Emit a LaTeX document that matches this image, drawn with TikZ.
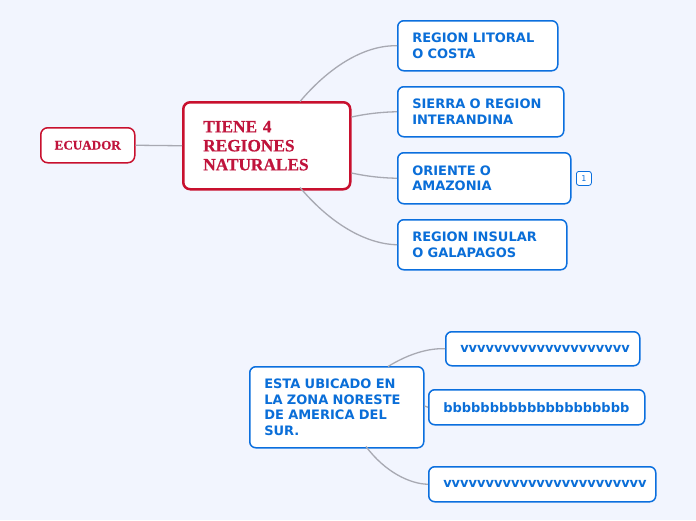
\documentclass[tikz,border=0pt]{standalone}
\usepackage{fontspec}
\setmainfont{Liberation Serif}
\newfontfamily\redfont[FakeBold=0.6]{Liberation Serif Bold}
\newfontfamily\bluefont{DejaVu Sans}
\definecolor{bg}{HTML}{F2F5FE}
\definecolor{mred}{HTML}{C8102E}
\definecolor{tred}{HTML}{C0143C}
\definecolor{mblue}{HTML}{0B6FDE}
\definecolor{tblue}{HTML}{0A6ED8}
\definecolor{conn}{HTML}{A8A9B2}
\tikzset{
  bluebox/.style={draw=mblue, line width=1.5pt, rounded corners=6pt, fill=white,
    anchor=north west, inner xsep=14.5pt, inner ysep=0pt, align=left,
    font=\bluefont\bfseries\fontsize{13}{15.5}\selectfont, text=tblue},
  redbox/.style={draw=mred, rounded corners=7pt, fill=white, anchor=north west,
    inner ysep=0pt, align=left, text=tred},
  link/.style={draw=conn, line width=1.3pt},
}
\begin{document}
\begin{tikzpicture}[x=1pt,y=-1pt]
\fill[bg] (0,0) rectangle (696,520);
\useasboundingbox (0,0) rectangle (696,520);
% red nodes
\node[redbox, line width=1.5pt, minimum width=94pt, minimum height=35pt, inner xsep=0pt, align=center,
  font=\redfont\fontsize{13.1}{16}\selectfont] (ecu) at (40,127) {\hbox to 94pt{\hss ECUADOR\hss}};
\node[redbox, line width=2.5pt, minimum width=167pt, minimum height=87pt, inner xsep=20pt,
  text width=127pt, font=\redfont\fontsize{17.3}{19}\selectfont] (tiene) at (182,101) {TIENE 4\\REGIONES\\NATURALES};
% blue nodes
\node[bluebox, minimum width=160pt, minimum height=50pt, text width=131pt] (lit) at (397,20) {REGION LITORAL\\O COSTA};
\node[bluebox, minimum width=166pt, minimum height=50pt, text width=137pt] (sie) at (397,86) {SIERRA O REGION\\INTERANDINA};
\node[bluebox, minimum width=173pt, minimum height=51pt, text width=144pt] (ori) at (397,152) {ORIENTE O\\AMAZONIA};
\node[bluebox, minimum width=169pt, minimum height=50pt, text width=140pt] (ins) at (397,219) {REGION INSULAR\\O GALAPAGOS};
\node[draw=mblue, line width=0.8pt, rounded corners=2.5pt, fill=white, anchor=north west,
  minimum width=15pt, minimum height=14pt, inner sep=0pt, text=mblue,
  font=\bluefont\fontsize{8}{9}\selectfont] (badge) at (576,171) {1};
\node[bluebox, minimum width=174pt, minimum height=81pt, text width=145pt] (esta) at (249,366) {ESTA UBICADO EN\\LA ZONA NORESTE\\DE AMERICA DEL\\SUR.};
\node[bluebox, minimum width=194pt, minimum height=34pt, text width=165pt] (v1) at (445,331) {vvvvvvvvvvvvvvvvvvvv};
\node[bluebox, minimum width=216pt, minimum height=35pt, text width=187pt] (b1) at (428,389) {bbbbbbbbbbbbbbbbbbbb};
\node[bluebox, minimum width=227pt, minimum height=35pt, text width=198pt] (v2) at (428,466) {vvvvvvvvvvvvvvvvvvvvvvvv};
% connectors
\coordinate (t1) at (300,101.5);
\coordinate (t4) at (300,187.5);
\coordinate (e1) at (388,366.5);
\coordinate (e3) at (366,446.5);
\draw[link] (ecu.east) -- (tiene.west);
\draw[link] (t1) .. controls (330,66) and (365,45) .. (lit.west);
\draw[link] (tiene.east |- 0,117) .. controls (370,113) and (385,112) .. (sie.west);
\draw[link] (tiene.east |- 0,173) .. controls (370,177) and (385,178) .. (ori.west);
\draw[link] (t4) .. controls (330,223) and (365,244) .. (ins.west);
\draw[link] (e1) .. controls (410,353) and (430,348) .. (v1.west);
\draw[link] (esta.east |- 0,406) -- (b1.west);
\draw[link] (e3) .. controls (385,472) and (410,484) .. (v2.west);
\end{tikzpicture}
\end{document}
